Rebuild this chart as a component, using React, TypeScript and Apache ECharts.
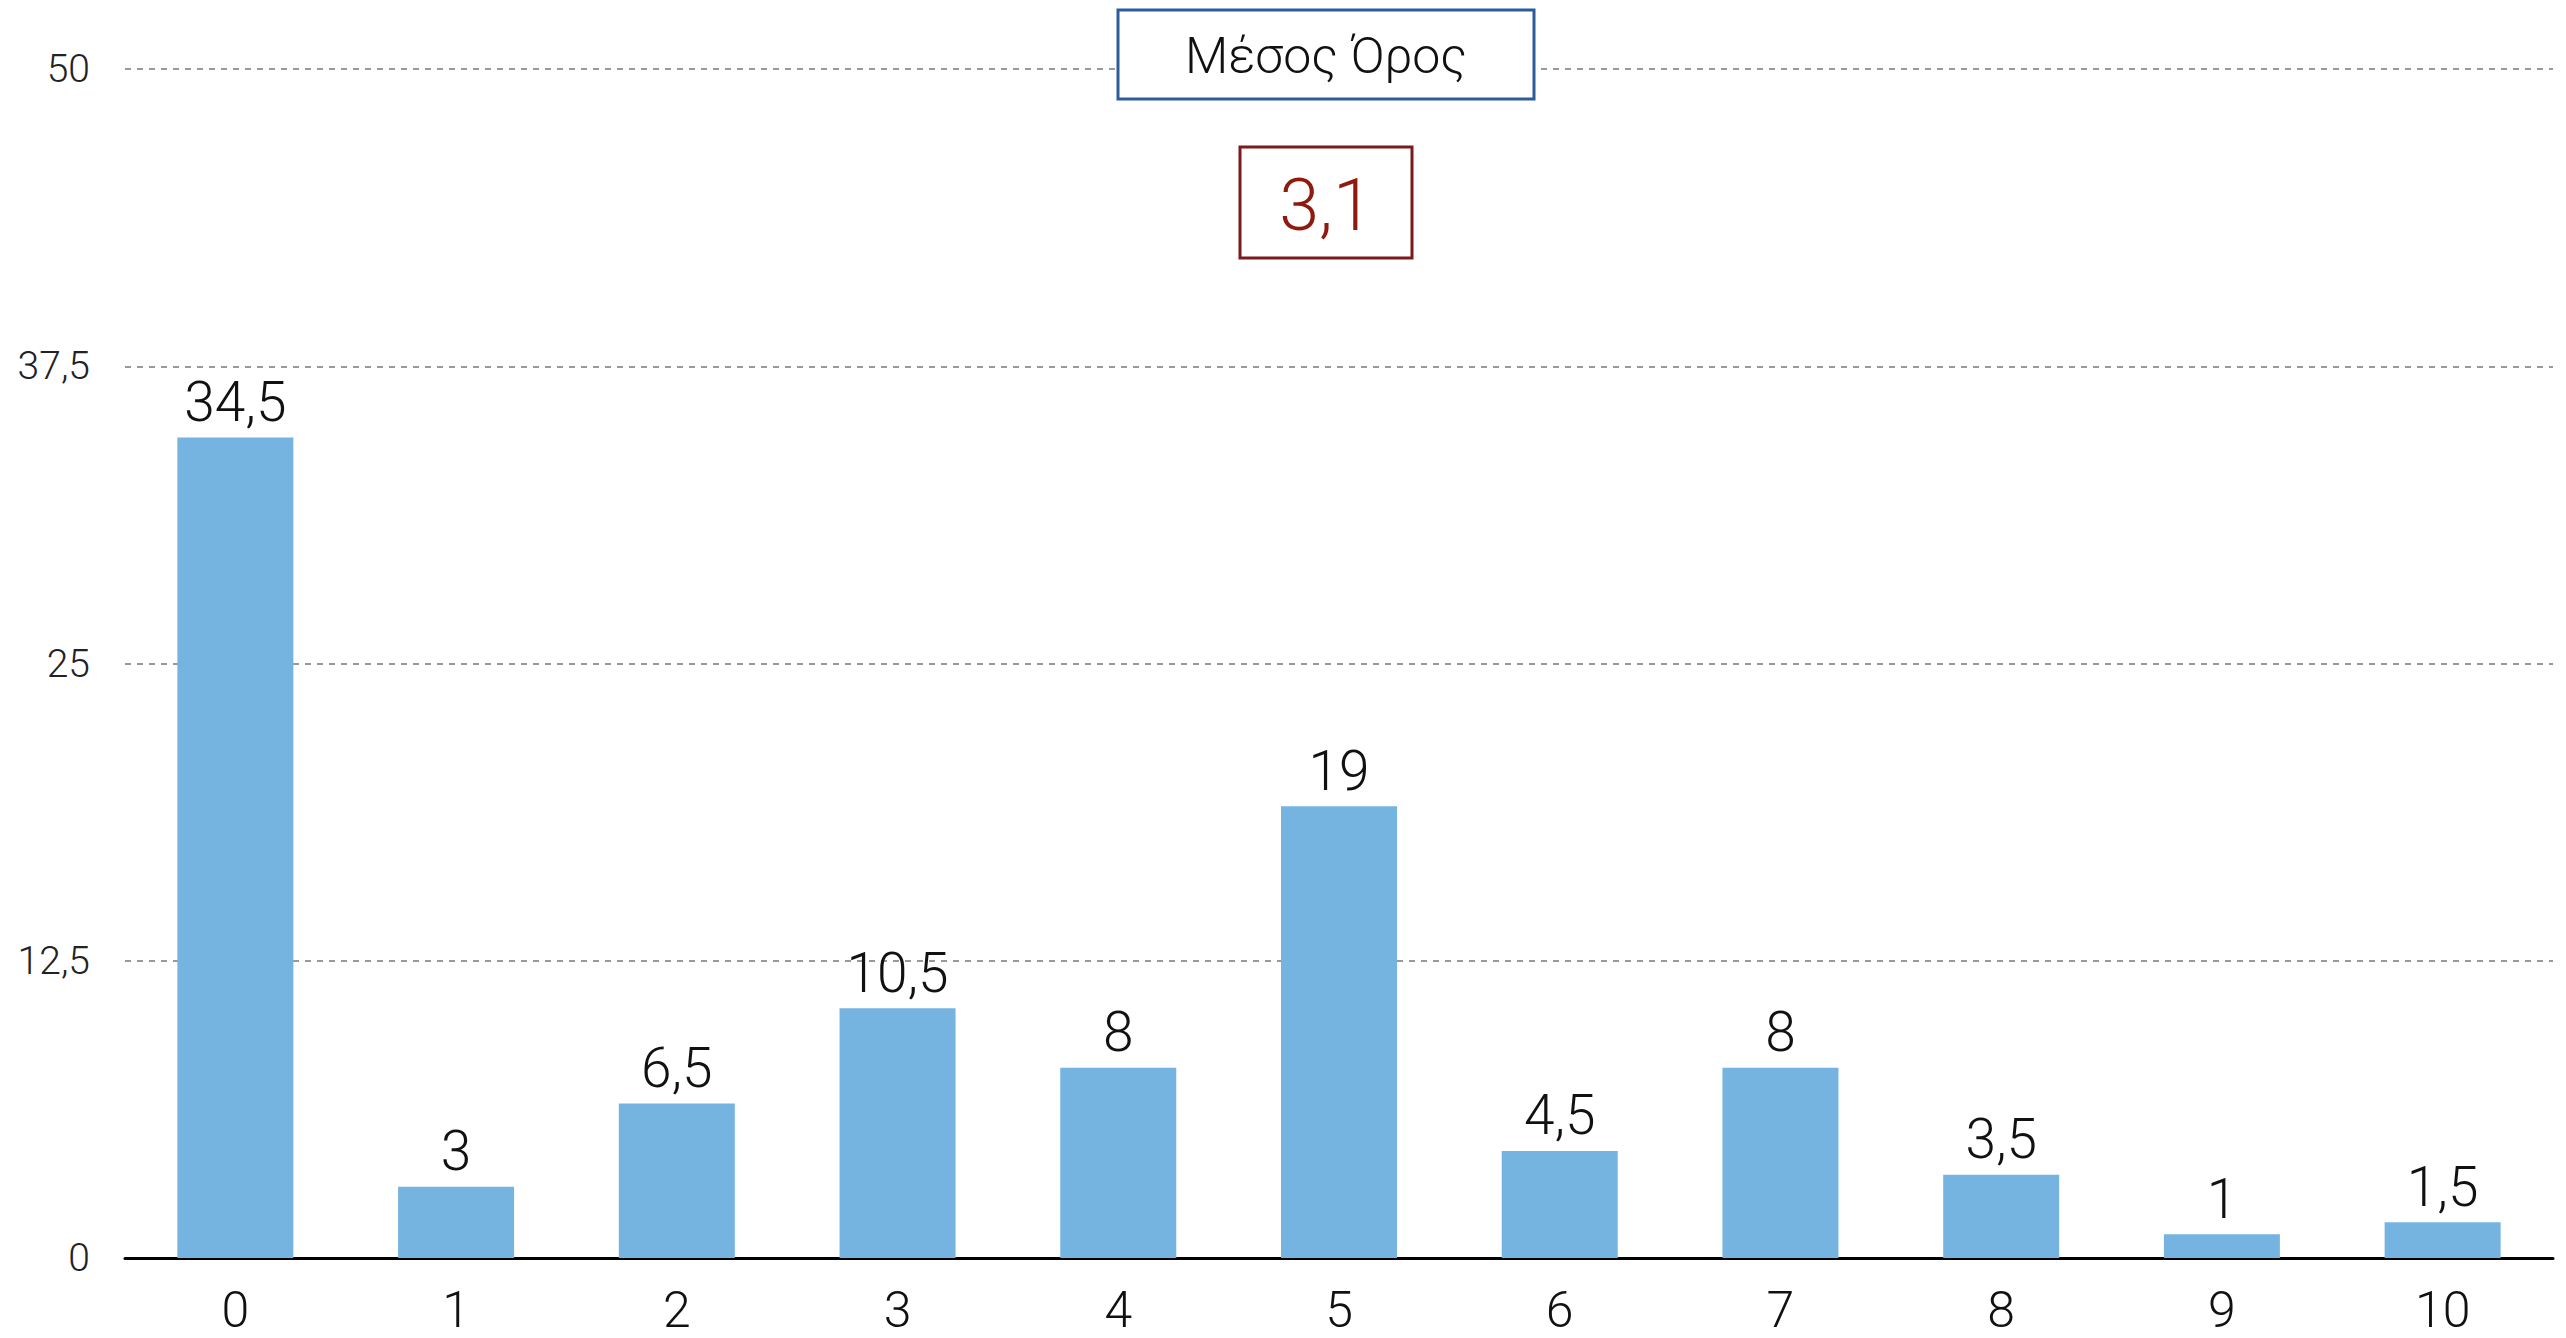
import React, { useEffect, useRef } from "react";
import * as echarts from "echarts";

const categories = ["0", "1", "2", "3", "4", "5", "6", "7", "8", "9", "10"];
const values = [34.5, 3, 6.5, 10.5, 8, 19, 4.5, 8, 3.5, 1, 1.5];
const yTicks = [0, 12.5, 25, 37.5, 50];
const meanTitle = "Μέσος Όρος";
const meanValue = "3,1";

const FONT = "Roboto, 'Helvetica Neue', Arial, sans-serif";
const fmt = (v: number) => String(v).replace(".", ",");

export default function App() {
  const ref = useRef<HTMLDivElement>(null);
  useEffect(() => {
    if (!ref.current) return;
    const chart = echarts.init(ref.current, null, { renderer: "svg" });
    chart.setOption({
      animation: false,
      backgroundColor: "#ffffff",
      grid: { left: 125, right: 13, top: 69, bottom: 80, containLabel: false },
      xAxis: {
        type: "category",
        data: categories,
        boundaryGap: true,
        axisLine: { show: true, lineStyle: { color: "#000", width: 3 } },
        axisTick: { show: false },
        axisLabel: {
          color: "#111",
          fontSize: 50,
          lineHeight: 40,
          fontFamily: FONT,
          fontWeight: 300,
          margin: 32,
        },
      },
      yAxis: {
        type: "value",
        min: yTicks[0],
        max: yTicks[yTicks.length - 1],
        interval: 12.5,
        axisLine: { show: false },
        axisTick: { show: false },
        axisLabel: {
          color: "#222",
          fontSize: 39,
          fontFamily: FONT,
          fontWeight: 300,
          margin: 35,
          formatter: (v: number) => fmt(v),
        },
        splitLine: {
          show: true,
          lineStyle: { color: "#999", width: 2, type: [6, 6] },
        },
      },
      series: [
        {
          type: "bar",
          data: values,
          barWidth: 116,
          itemStyle: { color: "#75b4e0" },
          label: {
            show: true,
            position: "top",
            distance: 8,
            color: "#111",
            fontSize: 55,
            fontFamily: FONT,
            fontWeight: 300,
            formatter: (p: any) => fmt(p.value),
          },
        },
      ],
      graphic: [
        {
          type: "rect",
          z: 100,
          shape: { x: 1118, y: 10, width: 416, height: 89 },
          style: { fill: "#fff", stroke: "#2b5c9c", lineWidth: 3 },
        },
        {
          type: "text",
          z: 101,
          x: 1326,
          y: 56,
          style: {
            text: meanTitle,
            fill: "#111",
            font: `300 50px ${FONT}`,
            align: "center",
            verticalAlign: "middle",
          },
        },
        {
          type: "rect",
          z: 100,
          shape: { x: 1240, y: 147, width: 172, height: 111 },
          style: { fill: "#fff", stroke: "#7b1b1b", lineWidth: 3 },
        },
        {
          type: "text",
          z: 101,
          x: 1326,
          y: 205,
          style: {
            text: meanValue,
            fill: "#8f1a0e",
            font: `300 72px ${FONT}`,
            align: "center",
            verticalAlign: "middle",
          },
        },
      ],
    });
    return () => chart.dispose();
  }, []);
  return (
    <div
      ref={ref}
      style={{ position: "fixed", left: 0, top: 0, width: 2566, height: 1338 }}
    />
  );
}
